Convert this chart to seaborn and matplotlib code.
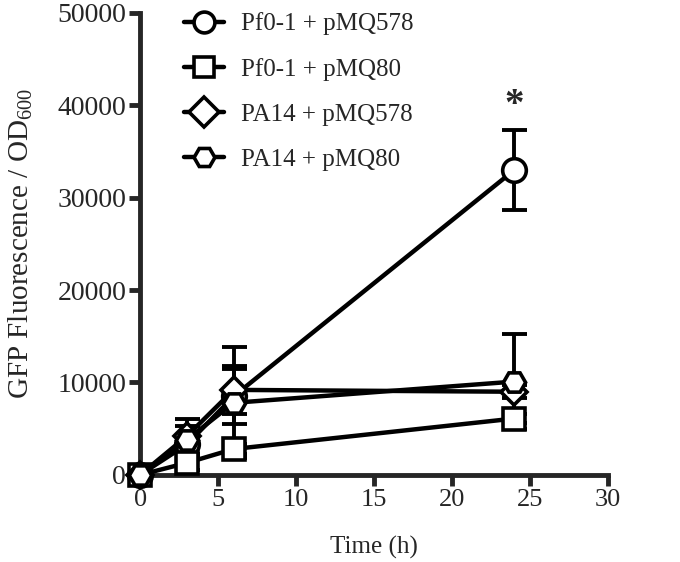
import numpy as np
import pandas as pd
import matplotlib
matplotlib.use("Agg")
import matplotlib.pyplot as plt
import seaborn as sns

# measured time points (h)
time_h = [0, 3, 6, 24]

series_names = ["Pf0-1 + pMQ578", "Pf0-1 + pMQ80", "PA14 + pMQ578", "PA14 + pMQ80"]
pf0_578 = [0, 3300, 8500, 33000]
pf0_578_err = [0, 1000, 3000, 4300]
pf0_80 = [0, 1300, 2800, 6100]
pf0_80_err = [0, 800, 500, 500]
pa14_578 = [0, 4200, 9200, 9000]
pa14_578_err = [0, 1900, 2600, 700]
pa14_80 = [0, 3800, 7800, 10100]
pa14_80_err = [0, 1500, 6000, 5100]

means = [pf0_578, pf0_80, pa14_578, pa14_80]
errs = [pf0_578_err, pf0_80_err, pa14_578_err, pa14_80_err]
markers = ["o", "s", "D", "H"]
msizes = [17, 16, 13, 16]

sns.set_style("ticks")
plt.rcParams['font.family'] = ['Liberation Serif', 'DejaVu Serif']
plt.rcParams['mathtext.fontset'] = 'custom'
plt.rcParams['mathtext.rm'] = 'Liberation Serif'
plt.rcParams['mathtext.it'] = 'Liberation Serif:italic'
plt.rcParams['mathtext.default'] = 'regular'

fig = plt.figure(figsize=(6.8, 5.62), dpi=100)
ax = fig.add_axes([0.206, 0.155, 0.688, 0.822])

rows = []
for name, m, e in zip(series_names, means, errs):
    for t, v, s in zip(time_h, m, e):
        rows.append({"series": name, "time": t, "value": v, "err": s})
df = pd.DataFrame(rows)

for name, mk, ms in zip(series_names, markers, msizes):
    sub = df[df["series"] == name]
    ax.errorbar(sub["time"], sub["value"], yerr=sub["err"], fmt="none",
                ecolor="black", elinewidth=2.8, capsize=9, capthick=2.8,
                clip_on=False, zorder=2)
    sns.lineplot(data=sub, x="time", y="value", ax=ax, color="black",
                 linewidth=3.2, marker=mk, markersize=ms,
                 markerfacecolor="white", markeredgecolor="black",
                 markeredgewidth=2.6, clip_on=False, zorder=3, label=name)

ax.text(24, 40000, "*", ha="center", va="center", fontsize=28, fontweight="bold")

ax.set_xlim(0, 30)
ax.set_ylim(0, 50000)
ax.set_xticks(range(0, 31, 5))
ax.set_yticks(range(0, 50001, 10000))
ax.set_xlabel("Time (h)", fontsize=18, labelpad=18)
ax.set_ylabel("GFP Fluorescence / OD$_{600}$", fontsize=21, labelpad=16)
ax.tick_params(axis="y", labelsize=20)
ax.tick_params(axis="x", labelsize=19)
ax.tick_params(width=3.5, length=8, direction="out", pad=2)
sns.despine(ax=ax)
for sp in ["left", "bottom"]:
    ax.spines[sp].set_linewidth(3.5)

leg = ax.legend(loc="upper left", bbox_to_anchor=(0.045, 1.05), frameon=False,
                fontsize=18, handlelength=1.6, handletextpad=0.7,
                labelspacing=0.9)
for h in leg.legend_handles:
    h.set_markersize(15)

fig.savefig("out.png", dpi=100)
